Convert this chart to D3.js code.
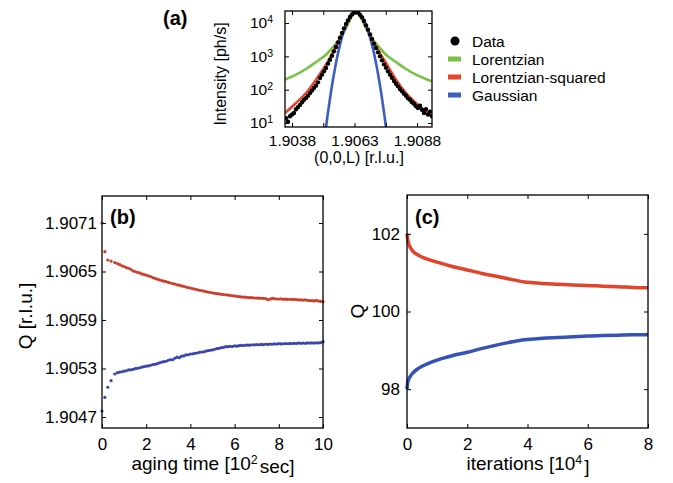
<!DOCTYPE html>
<html>
<head>
<meta charset="utf-8">
<script src="https://cdn.jsdelivr.net/npm/d3@7"></script>
<style>
body { margin: 0; background: #fff; }
svg { display: block; font-family: "Liberation Sans", Arial, Helvetica, sans-serif; }
.axis path { display: none; }
.axis line { stroke: #000; stroke-width: 1; }
.axis text { fill: #000; }
</style>
</head>
<body>
<div id="chart"></div>
<script>
// ---- (a) line scan through (0,0,L) ----
var scanL = [1.90356, 1.90364, 1.90372, 1.90380, 1.90388, 1.90396, 1.90404, 1.90412, 1.90420, 1.90428,
    1.90436, 1.90444, 1.90452, 1.90460, 1.90468, 1.90476, 1.90484, 1.90492, 1.90500, 1.90508,
    1.90516, 1.90524, 1.90532, 1.90540, 1.90548, 1.90556, 1.90564, 1.90572, 1.90580, 1.90588,
    1.90596, 1.90604, 1.90612, 1.90620, 1.90628, 1.90636, 1.90644, 1.90652, 1.90660, 1.90668,
    1.90676, 1.90684, 1.90692, 1.90700, 1.90708, 1.90716, 1.90724, 1.90732, 1.90740, 1.90748,
    1.90756, 1.90764, 1.90772, 1.90780, 1.90788, 1.90796, 1.90804, 1.90812, 1.90820, 1.90828,
    1.90836, 1.90844, 1.90852, 1.90860, 1.90868, 1.90876, 1.90884, 1.90892, 1.90900, 1.90908,
    1.90916, 1.90924, 1.90932, 1.90940];
var scanIntensity = [14, 11, 16, 18, 20, 26, 30, 35, 42, 50,
    56, 66, 79, 95, 112, 132, 166, 224, 282, 355,
    447, 603, 794, 1047, 1413, 1905, 2630, 3631, 5012, 6918,
    9333, 12020, 15140, 18200, 20420, 21380, 20420, 17780, 14790, 11480,
    8511, 6310, 4571, 3311, 2399, 1778, 1318, 1000, 759, 575,
    457, 355, 282, 229, 182, 151, 126, 105, 89, 76,
    66, 55, 50, 42, 38, 32, 28, 33, 25, 20,
    26, 18, 22, 16];

var fitL = [1.90352, 1.90396, 1.90436, 1.90476, 1.90516, 1.90556, 1.90576, 1.90596, 1.90616, 1.90636,
    1.90656, 1.90676, 1.90696, 1.90716, 1.90756, 1.90796, 1.90836, 1.90876, 1.90916, 1.90940];
var lorentzian = [200, 282, 417, 676, 1122, 2399, 3802, 7079, 14125, 21380,
    14125, 7079, 3802, 2399, 1122, 676, 417, 282, 209, 178];
var lorentzianSq = [20, 40, 79, 200, 562, 1995, 3981, 7943, 15850, 21380,
    15850, 7943, 3981, 1995, 631, 200, 79, 40, 22, 16];

var gaussL = [1.90512, 1.90524, 1.90536, 1.90548, 1.90560, 1.90572, 1.90588, 1.90604, 1.90620, 1.90636,
    1.90652, 1.90668, 1.90684, 1.90700, 1.90712, 1.90724, 1.90736, 1.90748, 1.90760];
var gaussian = [4.5, 21, 87, 302, 891, 2239, 6026, 12020, 18620, 21380,
    18620, 12020, 6026, 2239, 891, 302, 87, 21, 4.5];

var scanTicks = [1.9038, 1.90505, 1.9063, 1.90755, 1.9088];
var scanTickLabels = [1.9038, 1.9063, 1.9088];
var intensityTicks = [10, 100, 1000, 10000];

var legendNames = ["Data", "Lorentzian", "Lorentzian-squared", "Gaussian"];

// ---- (b) peak position vs aging time [10^2 sec] ----
var agingTime = [0, 0.13, 0.26, 0.41, 0.58, 0.7, 0.8, 0.9, 1.0, 1.1,
    1.2, 1.3, 1.4, 1.5, 1.6, 1.7, 1.8, 1.9, 2.0, 2.1,
    2.2, 2.3, 2.4, 2.5, 2.6, 2.7, 2.8, 2.9, 3.0, 3.1,
    3.2, 3.3, 3.4, 3.5, 3.6, 3.7, 3.8, 3.9, 4.0, 4.1,
    4.2, 4.3, 4.4, 4.5, 4.6, 4.7, 4.8, 4.9, 5.0, 5.1,
    5.2, 5.3, 5.4, 5.5, 5.6, 5.7, 5.8, 5.9, 6.0, 6.1,
    6.2, 6.3, 6.4, 6.5, 6.6, 6.7, 6.8, 6.9, 7.0, 7.1,
    7.2, 7.3, 7.4, 7.5, 7.6, 7.7, 7.8, 7.9, 8.0, 8.1,
    8.2, 8.3, 8.4, 8.5, 8.6, 8.7, 8.8, 8.9, 9.0, 9.1,
    9.2, 9.3, 9.4, 9.5, 9.6, 9.7, 9.8, 9.9, 10.0];
var qUpper = [1.907100, 1.906745, 1.906642, 1.906628, 1.906610, 1.906598, 1.906585, 1.906570, 1.906562, 1.906548,
    1.906540, 1.906528, 1.906507, 1.906500, 1.906490, 1.906482, 1.906470, 1.906462, 1.906455, 1.906446,
    1.906436, 1.906425, 1.906416, 1.906405, 1.906396, 1.906388, 1.906380, 1.906375, 1.906366, 1.906358,
    1.906351, 1.906345, 1.906335, 1.906331, 1.906322, 1.906316, 1.906308, 1.906300, 1.906296, 1.906288,
    1.906282, 1.906276, 1.906268, 1.906265, 1.906258, 1.906252, 1.906246, 1.906240, 1.906236, 1.906230,
    1.906226, 1.906224, 1.906218, 1.906215, 1.906212, 1.906208, 1.906205, 1.906200, 1.906198, 1.906193,
    1.906190, 1.906186, 1.906184, 1.906182, 1.906178, 1.906176, 1.906176, 1.906172, 1.906172, 1.906170,
    1.906169, 1.906168, 1.906166, 1.906152, 1.906158, 1.906168, 1.906164, 1.906160, 1.906160, 1.906162,
    1.906156, 1.906158, 1.906155, 1.906157, 1.906154, 1.906156, 1.906152, 1.906150, 1.906148, 1.906146,
    1.906148, 1.906143, 1.906140, 1.906139, 1.906136, 1.906142, 1.906134, 1.906131, 1.906127];
var qLower = [1.904774, 1.904944, 1.905068, 1.905149, 1.905232, 1.905248, 1.905256, 1.905260, 1.905267, 1.905272,
    1.905282, 1.905284, 1.905290, 1.905298, 1.905302, 1.905308, 1.905317, 1.905324, 1.905329, 1.905332,
    1.905340, 1.905348, 1.905352, 1.905360, 1.905370, 1.905380, 1.905384, 1.905390, 1.905402, 1.905410,
    1.905408, 1.905428, 1.905440, 1.905434, 1.905452, 1.905456, 1.905468, 1.905470, 1.905478, 1.905482,
    1.905488, 1.905492, 1.905500, 1.905504, 1.905506, 1.905514, 1.905522, 1.905526, 1.905530, 1.905538,
    1.905546, 1.905550, 1.905558, 1.905562, 1.905570, 1.905570, 1.905574, 1.905572, 1.905580, 1.905576,
    1.905582, 1.905586, 1.905584, 1.905588, 1.905590, 1.905588, 1.905594, 1.905592, 1.905596, 1.905594,
    1.905598, 1.905595, 1.905600, 1.905598, 1.905602, 1.905600, 1.905604, 1.905602, 1.905608, 1.905604,
    1.905606, 1.905608, 1.905606, 1.905610, 1.905608, 1.905612, 1.905610, 1.905614, 1.905612, 1.905614,
    1.905612, 1.905616, 1.905614, 1.905616, 1.905614, 1.905618, 1.905616, 1.905620, 1.905632];
var agingTicks = [0, 2, 4, 6, 8, 10];
var qTicks = [1.9047, 1.9053, 1.9059, 1.9065, 1.9071];

// ---- (c) simulation vs iterations [10^4] ----
var iterations = [0, 0.02, 0.05, 0.1, 0.2, 0.35, 0.5, 0.75, 1.0, 1.5,
    2.0, 2.5, 3.0, 3.5, 3.9, 4.2, 4.5, 5.0, 5.5, 6.0, 6.5, 7.0, 7.5, 8.0];
var simUpper = [102.0, 101.88, 101.76, 101.66, 101.55, 101.46, 101.40, 101.33, 101.27, 101.16,
    101.07, 100.98, 100.90, 100.82, 100.76, 100.74, 100.72, 100.70, 100.68, 100.67, 100.65, 100.64, 100.62, 100.61];
var simLower = [98.0, 98.15, 98.24, 98.32, 98.42, 98.52, 98.59, 98.68, 98.75, 98.86,
    98.95, 99.05, 99.14, 99.22, 99.27, 99.29, 99.31, 99.33, 99.35, 99.37, 99.38, 99.39, 99.40, 99.40];
var iterTicks = [0, 2, 4, 6, 8];
var simTicks = [98, 100, 102];

var colors = {
    lor: "#78c244", lorSq: "#e6442c", gauss: "#3b5ec0",
    bRed: "#cc3d2b", bBlue: "#3a45aa",
    cRed: "#e3432b", cBlue: "#3553b6"
};

var svg = d3.select("#chart").append("svg")
    .attr("width", 673)
    .attr("height", 483);

var blank = function () { return ""; };

// Box with inward ticks on all four sides, labels only left & bottom
function drawFrame(g, x, y, o) {
    var w = x.range()[1], h = y.range()[0];
    var bottom = g.append("g").attr("class", "axis")
        .attr("transform", "translate(0," + h + ")")
        .call(d3.axisBottom(x).tickValues(o.xTicks).tickSizeInner(-4).tickSizeOuter(0)
            .tickPadding(o.xPad).tickFormat(o.xFormat));
    g.append("g").attr("class", "axis")
        .call(d3.axisTop(x).tickValues(o.xTicks).tickSizeInner(-4).tickSizeOuter(0).tickFormat(blank));
    var left = g.append("g").attr("class", "axis")
        .call(d3.axisLeft(y).tickValues(o.yTicks).tickSizeInner(-4).tickSizeOuter(0)
            .tickPadding(o.yPad).tickFormat(o.yFormat));
    g.append("g").attr("class", "axis")
        .attr("transform", "translate(" + w + ",0)")
        .call(d3.axisRight(y).tickValues(o.yTicks).tickSizeInner(-4).tickSizeOuter(0).tickFormat(blank));
    [bottom, left].forEach(function (a) {
        a.attr("font-family", null).attr("font-size", o.fontSize);
    });
    g.append("rect")
        .attr("width", w)
        .attr("height", h)
        .attr("fill", "none")
        .attr("stroke", "#000")
        .attr("stroke-width", 1.3);
    return left;
}

function superLabel(sel, before, sup, after) {
    sel.append("tspan").text(before);
    sel.append("tspan").attr("dy", "-0.45em").attr("font-size", "0.65em").text(sup);
    sel.append("tspan").attr("dy", "0.45em").attr("dx", 2).text(after);
}

// ================= (a) =================
(function () {
    var w = 147, h = 116;
    var g = svg.append("g").attr("transform", "translate(285,11)");
    var x = d3.scaleLinear().domain([1.90352, 1.90940]).range([0, w]);
    var y = d3.scaleLog().domain([7.6, 22900]).range([h, 0]);

    svg.append("clipPath").attr("id", "clipA")
        .append("rect").attr("width", w).attr("height", h);

    var plot = g.append("g").attr("clip-path", "url(#clipA)");
    var line = d3.line()
        .x(function (d) { return x(d[0]); })
        .y(function (d) { return y(d[1]); })
        .curve(d3.curveMonotoneX);

    plot.append("path").datum(d3.zip(fitL, lorentzian))
        .attr("d", line).attr("fill", "none").attr("stroke", colors.lor).attr("stroke-width", 2.6);
    plot.append("path").datum(d3.zip(fitL, lorentzianSq))
        .attr("d", line).attr("fill", "none").attr("stroke", colors.lorSq).attr("stroke-width", 2.6);
    plot.append("path").datum(d3.zip(gaussL, gaussian))
        .attr("d", line).attr("fill", "none").attr("stroke", colors.gauss).attr("stroke-width", 2.6);

    plot.selectAll(".scan")
        .data(d3.zip(scanL, scanIntensity))
        .enter()
        .append("circle")
        .attr("cx", function (d) { return x(d[0]); })
        .attr("cy", function (d) { return y(d[1]); })
        .attr("r", 2.2)
        .attr("fill", "#000");

    var left = drawFrame(g, x, y, {
        xTicks: scanTicks, yTicks: intensityTicks, xPad: 8, yPad: 12, fontSize: 15.5,
        xFormat: function (d) { return scanTickLabels.indexOf(d) >= 0 ? d.toFixed(4) : ""; },
        yFormat: blank
    });
    // 10^n labels with superscripts
    left.selectAll(".tick text").each(function (d) {
        var t = d3.select(this);
        t.append("tspan").text("10");
        t.append("tspan").attr("dy", "-0.5em").attr("font-size", "0.68em").text(Math.round(Math.log10(d)));
    });

    svg.append("text").attr("x", 163).attr("y", 25)
        .attr("font-size", 20).attr("font-weight", "bold").text("(a)");
    svg.append("text")
        .attr("transform", "translate(220,74) rotate(-90)")
        .attr("text-anchor", "middle").attr("dominant-baseline", "central")
        .attr("font-size", 16).text("Intensity [ph/s]");
    svg.append("text").attr("x", 359).attr("y", 163)
        .attr("text-anchor", "middle").attr("font-size", 16).text("(0,0,L) [r.l.u.]");

    // legend
    var legendColors = ["#000", colors.lor, colors.lorSq, colors.gauss];
    var lg = svg.append("g").attr("transform", "translate(448,41)");
    legendNames.forEach(function (name, i) {
        var row = lg.append("g").attr("transform", "translate(0," + (i * 18) + ")");
        if (i === 0) {
            row.append("circle").attr("cx", 7).attr("cy", 0).attr("r", 4.5).attr("fill", "#000");
        } else {
            row.append("rect").attr("x", 0).attr("y", -2.5).attr("width", 13).attr("height", 5)
                .attr("fill", legendColors[i]);
        }
        row.append("text").attr("x", 24).attr("y", 5.5).attr("font-size", 15.5).text(name);
    });
})();

// ================= (b) =================
(function () {
    var w = 221, h = 232;
    var g = svg.append("g").attr("transform", "translate(102,196)");
    var x = d3.scaleLinear().domain([0, 10]).range([0, w]);
    var y = d3.scaleLinear().domain([1.904564, 1.907434]).range([h, 0]);

    [[qUpper, colors.bRed], [qLower, colors.bBlue]].forEach(function (s) {
        g.append("g").selectAll("circle")
            .data(d3.zip(agingTime, s[0]))
            .enter()
            .append("circle")
            .attr("cx", function (d) { return x(d[0]); })
            .attr("cy", function (d) { return y(d[1]); })
            .attr("r", 1.6)
            .attr("fill", s[1]);
    });

    drawFrame(g, x, y, {
        xTicks: agingTicks, yTicks: qTicks, xPad: 10, yPad: 5, fontSize: 17,
        xFormat: d3.format("d"),
        yFormat: function (d) { return d.toFixed(4); }
    });

    svg.append("text").attr("x", 110).attr("y", 224)
        .attr("font-size", 20).attr("font-weight", "bold").text("(b)");
    svg.append("text")
        .attr("transform", "translate(25,316) rotate(-90)")
        .attr("text-anchor", "middle").attr("dominant-baseline", "central")
        .attr("font-size", 19).text("Q [r.l.u.]");
    var xl = svg.append("text").attr("x", 213).attr("y", 470)
        .attr("text-anchor", "middle").attr("font-size", 19);
    superLabel(xl, "aging time [10", "2", "sec]");
})();

// ================= (c) =================
(function () {
    var w = 241, h = 233;
    var g = svg.append("g").attr("transform", "translate(407,195)");
    var x = d3.scaleLinear().domain([0, 8]).range([0, w]);
    var y = d3.scaleLinear().domain([97, 103]).range([h, 0]);

    var line = d3.line()
        .x(function (d) { return x(d[0]); })
        .y(function (d) { return y(d[1]); })
        .curve(d3.curveMonotoneX);

    g.append("path").datum(d3.zip(iterations, simUpper))
        .attr("d", line).attr("fill", "none").attr("stroke", colors.cRed).attr("stroke-width", 3.5);
    g.append("path").datum(d3.zip(iterations, simLower))
        .attr("d", line).attr("fill", "none").attr("stroke", colors.cBlue).attr("stroke-width", 3.5);

    drawFrame(g, x, y, {
        xTicks: iterTicks, yTicks: simTicks, xPad: 10, yPad: 7, fontSize: 17,
        xFormat: d3.format("d"),
        yFormat: d3.format("d")
    });

    svg.append("text").attr("x", 415).attr("y", 224)
        .attr("font-size", 20).attr("font-weight", "bold").text("(c)");
    svg.append("text")
        .attr("transform", "translate(357,311) rotate(-90)")
        .attr("text-anchor", "middle").attr("dominant-baseline", "central")
        .attr("font-size", 19).text("Q");
    var xl = svg.append("text").attr("x", 528).attr("y", 470)
        .attr("text-anchor", "middle").attr("font-size", 19);
    superLabel(xl, "iterations [10", "4", "]");
})();
</script>
</body>
</html>
